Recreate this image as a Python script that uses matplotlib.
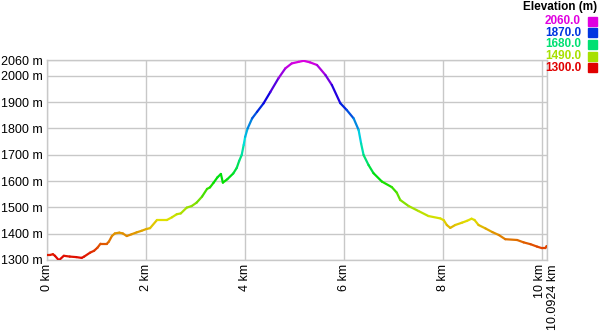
import numpy as np
import matplotlib
matplotlib.use("Agg")
import matplotlib.pyplot as plt
import matplotlib.transforms as mtransforms
from matplotlib.collections import LineCollection
from matplotlib.colors import ListedColormap, Normalize, hsv_to_rgb

plt.rcParams['font.family'] = ['Liberation Sans', 'DejaVu Sans']

# distance (km) and elevation (m) along the track
dist_km = [0.00, 0.07, 0.13, 0.17, 0.25, 0.35, 0.47, 0.60, 0.71, 0.76, 0.88, 0.96,
           1.03, 1.09, 1.22, 1.26, 1.32, 1.38, 1.47, 1.54, 1.62, 1.72, 1.82, 1.92,
           2.02, 2.09, 2.23, 2.43, 2.53, 2.63, 2.71, 2.83, 2.93, 3.03, 3.14, 3.24,
           3.30, 3.37, 3.45, 3.52, 3.56, 3.65, 3.77, 3.84, 3.89, 3.94, 3.98, 4.01,
           4.06, 4.15, 4.25, 4.38, 4.52, 4.68, 4.82, 4.95, 5.09, 5.19, 5.32, 5.46,
           5.63, 5.76, 5.93, 6.06, 6.20, 6.30, 6.35, 6.40, 6.50, 6.60, 6.77, 6.97,
           7.07, 7.14, 7.31, 7.51, 7.71, 7.95, 8.02, 8.08, 8.15, 8.25, 8.39, 8.49,
           8.58, 8.64, 8.72, 8.86, 9.00, 9.13, 9.26, 9.50, 9.63, 9.77, 9.90, 10.00,
           10.07, 10.0924]
elev_m = [1319, 1319, 1322, 1316, 1299, 1316, 1313, 1311, 1308, 1313, 1328, 1335,
          1347, 1362, 1362, 1370, 1391, 1401, 1404, 1401, 1391, 1398, 1405, 1411,
          1418, 1421, 1452, 1452, 1462, 1474, 1477, 1499, 1505, 1518, 1541, 1570,
          1576, 1593, 1614, 1627, 1594, 1607, 1629, 1650, 1677, 1699, 1737, 1768,
          1800, 1838, 1863, 1895, 1939, 1990, 2028, 2047, 2053, 2057, 2051, 2041,
          2003, 1965, 1896, 1870, 1838, 1794, 1743, 1699, 1661, 1630, 1598, 1577,
          1556, 1528, 1505, 1486, 1467, 1458, 1451, 1433, 1422, 1433, 1442, 1449,
          1457, 1452, 1433, 1420, 1406, 1395, 1379, 1376, 1367, 1360, 1351, 1345,
          1345, 1353]

y_ticks = [1300, 1400, 1500, 1600, 1700, 1800, 1900, 2000, 2060]
x_ticks = [0, 2, 4, 6, 8, 10, 10.0924]
x_tick_labels = ["0 km", "2 km", "4 km", "6 km", "8 km", "10 km", "10.0924 km"]
legend_values = [2060.0, 1870.0, 1680.0, 1490.0, 1300.0]

# hue goes red -> magenta with elevation
hues = np.linspace(0, 300 / 360, 256)
cmap = ListedColormap(hsv_to_rgb(np.column_stack([hues, np.ones(256), np.full(256, 0.88)])))
norm = Normalize(1300, 2060)

fig = plt.figure(figsize=(6, 3.32), dpi=100)
ax = fig.add_axes([46.5 / 600, 1 - 260 / 332, 500 / 600, 200 / 332])

pts = np.column_stack([dist_km, elev_m])
segs = np.stack([pts[:-1], pts[1:]], axis=1)
mid = (np.array(elev_m[:-1]) + np.array(elev_m[1:])) / 2
lc = LineCollection(segs, colors=cmap(norm(mid)), linewidths=1.6, capstyle='round', zorder=3)
ax.add_collection(lc)

ax.set_xlim(0, 10.0924)
ax.set_ylim(1300, 2060)
ax.set_yticks(y_ticks)
ax.set_yticklabels([f"{v} m" for v in y_ticks], fontsize=9)
ax.set_xticks(x_ticks)
ax.set_xticklabels(x_tick_labels, rotation=90, fontsize=9, va='top', ha='center')
ax.tick_params(length=0, pad=3)
ax.grid(True, color='#c8c8c8', linewidth=1)
for s in ax.spines.values():
    s.set_color('#c8c8c8')
    s.set_linewidth(1)

# nudge the last two labels apart so they don't collide
lbls = ax.get_xticklabels()
lbls[-2].set_transform(lbls[-2].get_transform() +
                       mtransforms.ScaledTranslation(-2 / 100, 0, fig.dpi_scale_trans))
lbls[-1].set_transform(lbls[-1].get_transform() +
                       mtransforms.ScaledTranslation(7 / 100, 0, fig.dpi_scale_trans))

# legend at top right
fig.text(597 / 600, 1 - 7 / 332, "Elevation (m)", ha='right', va='center',
         fontsize=8.5, fontweight='bold')
for i, v in enumerate(legend_values):
    col = cmap(norm(v))
    yc = 1 - (21 + i * 11.7) / 332
    fig.text(581 / 600, yc, f"{v:.1f}", ha='right', va='center', fontsize=8.5,
             fontweight='bold', color=col)
    fig.patches.append(plt.Rectangle((588 / 600, yc - 4.5 / 332), 9 / 600, 9 / 332,
                                     transform=fig.transFigure, color=col))

fig.savefig("out.png", dpi=100)
